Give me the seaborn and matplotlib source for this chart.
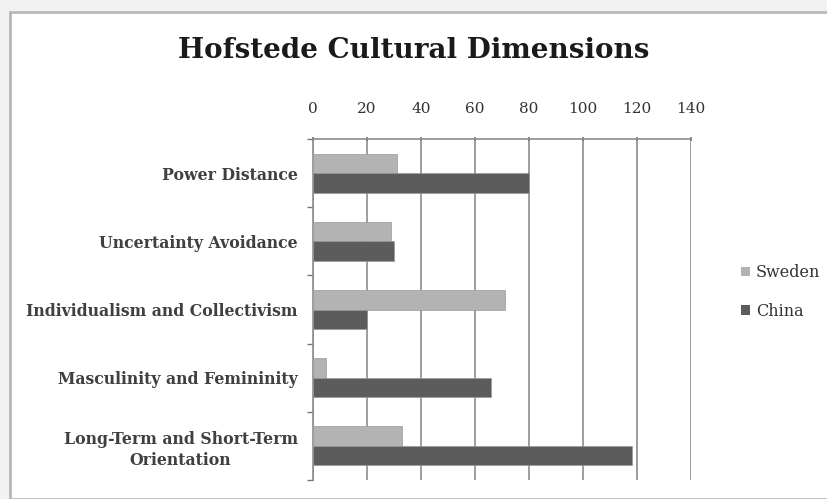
import matplotlib
matplotlib.use("Agg")
import matplotlib.pyplot as plt
import seaborn as sns
import pandas as pd
import numpy as np
from matplotlib.patches import Rectangle, Patch

categories = ["Power Distance", "Uncertainty Avoidance", "Individualism and Collectivism",
              "Masculinity and Femininity", "Long-Term and Short-Term\nOrientation"]
sweden = [31, 29, 71, 5, 33]
china = [80, 30, 20, 66, 118]
series = ["Sweden", "China"]
xticks = [0, 20, 40, 60, 80, 100, 120, 140]

df = pd.DataFrame({
    "Dimension": categories * 2,
    "Score": sweden + china,
    "Country": ["Sweden"] * len(categories) + ["China"] * len(categories),
})

sns.set_theme(style="white")
plt.rcParams['font.family'] = ['DejaVu Serif']

fig = plt.figure(figsize=(8.28, 4.99), dpi=100)
fig.patch.set_facecolor("#f2f2f2")
# chart frame (Excel style)
frame = Rectangle((10/828, 0), 1, 1 - 12/499, transform=fig.transFigure,
                  facecolor="white", edgecolor="#b8b8b8", linewidth=2, zorder=-10)
fig.patches.append(frame)

ax = fig.add_axes([313/828, 1 - 480/499, (691 - 313)/828, (480 - 139)/499])
ax.set_zorder(1)
ax.set_facecolor("none")
colors = {"Sweden": "#b3b3b3", "China": "#5c5c5c"}
sns.barplot(data=df, y="Dimension", x="Score", hue="Country", hue_order=series,
            palette=colors, orient="h", width=0.57, gap=0, ax=ax,
            edgecolor="#9a9a9a", linewidth=0.5, legend=False, zorder=3)

ax.set_xlim(0, 140)
ax.set_ylim(len(categories) - 0.5, -0.5)
ax.set_xticks(xticks)
ax.xaxis.tick_top()
ax.tick_params(axis="x", top=True, bottom=False, length=3, direction="inout",
               labelsize=11, labelcolor="#333333", color="#777777", pad=15)
ax.grid(axis="x", color="#8c8c8c", linewidth=1.2, zorder=0)
ax.set_axisbelow(True)
ax.set_yticks(range(len(categories)))
ax.set_yticklabels(categories, fontsize=11.3, color="#404040", fontweight="bold",
                   ha="right", multialignment="center", linespacing=1.3)
ax.tick_params(axis="y", which="major", length=0, pad=11)
ax.set_yticks(np.arange(-0.5, len(categories), 1), minor=True)
ax.tick_params(axis="y", which="minor", length=4, color="#777777", left=True)
ax.set_xlabel("")
ax.set_ylabel("")
for s in ["right", "bottom"]:
    ax.spines[s].set_visible(False)
for s in ["left", "top"]:
    ax.spines[s].set_color("#8c8c8c")
    ax.spines[s].set_linewidth(1.2)

fig.text(414/828, 1 - 50/499, "Hofstede Cultural Dimensions", ha="center", va="center",
         fontsize=20, fontweight="bold", color="#1a1a1a")

handles = [Patch(facecolor=colors[s], edgecolor="none") for s in series]
leg = fig.legend(handles, series, loc="center left", bbox_to_anchor=(727/828, 1 - 292/499),
                 frameon=False, fontsize=11.5, handlelength=0.55, handleheight=0.55,
                 handletextpad=0.35, labelspacing=1.35)
for t in leg.get_texts():
    t.set_color("#333333")

fig.savefig("out.png", dpi=100, facecolor=fig.get_facecolor())
